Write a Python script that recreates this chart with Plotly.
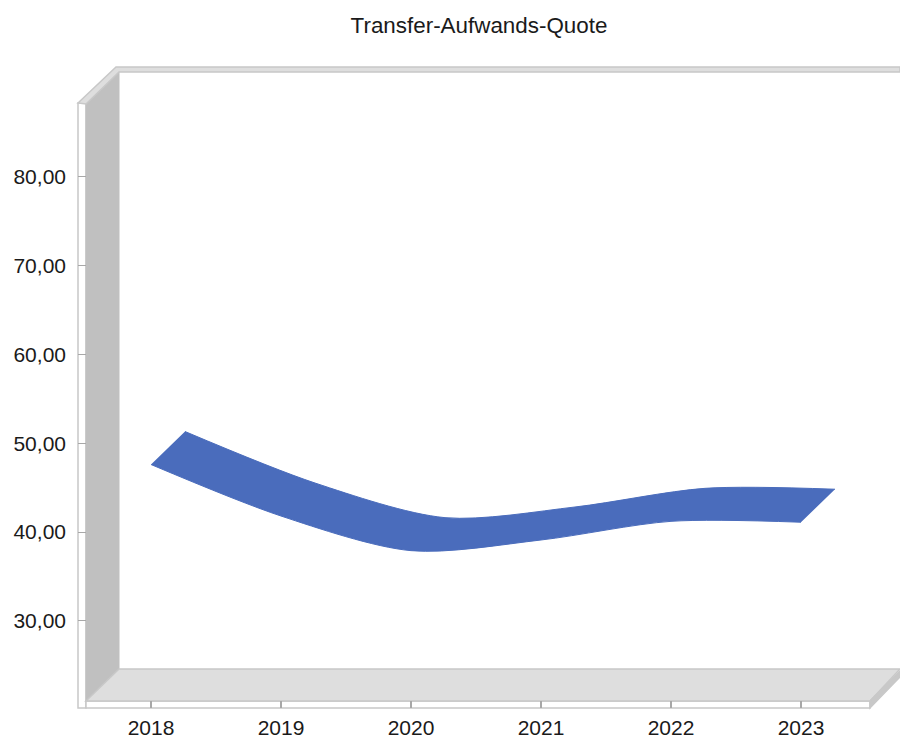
import plotly.graph_objects as go

years = [2018, 2019, 2020, 2021, 2022, 2023]
quote = [47.6, 41.8, 37.9, 39.1, 41.2, 41.1]
y_ticks = [30, 40, 50, 60, 70, 80]
y_labels = ["30,00", "40,00", "50,00", "60,00", "70,00", "80,00"]
title_text = "Transfer-Aufwands-Quote"

W, H = 900, 740
L, R, T, B = 78, 900, 60, 708
PX_YEAR = 130.0
PX_UNIT = 8.88


def xv(px):
    return 2018 + (px - 151) / PX_YEAR


def yv(py):
    return 40 + (532 - py) / PX_UNIT


depth_x = 34 / PX_YEAR
depth_y = 33 / PX_UNIT

EDGE = "#C8C8C8"
WALL = "#C0C0C0"
FLOOR = "#DEDEDE"
BLUE = "#4A6CBC"
SMOOTH = 0.85


def poly(points, fill, line=EDGE, width=1.5):
    path = "M " + " L ".join(f"{(x - L) / (R - L):.5f},{(B - y) / (B - T):.5f}" for x, y in points) + " Z"
    return dict(type="path", xref="paper", yref="paper", path=path, fillcolor=fill,
                line=dict(color=line, width=width), layer="below")


shapes = [
    poly([(78, 103), (86, 103), (86, 708), (78, 708)], "#FFFFFF"),
    poly([(86, 701), (870, 701), (870, 708), (86, 708)], "#FFFFFF"),
    poly([(86, 104), (119, 72), (119, 669), (86, 701)], WALL, WALL, 1),
    poly([(78, 103), (116, 67), (900, 67), (900, 72), (119, 72), (86, 104)], FLOOR),
    poly([(86, 701), (119, 669), (900, 669), (870, 701)], FLOOR),
    poly([(870, 701), (900, 671), (900, 677), (870, 708)], EDGE),
]

fig = go.Figure()
fig.add_trace(go.Scatter(
    x=[v + depth_x for v in years], y=[v + depth_y for v in quote],
    mode="lines", line=dict(shape="spline", smoothing=SMOOTH, color=BLUE, width=1),
    hoverinfo="skip", showlegend=False))
fig.add_trace(go.Scatter(
    x=years, y=quote, mode="lines", fill="tonexty", fillcolor=BLUE,
    line=dict(shape="spline", smoothing=SMOOTH, color=BLUE, width=1),
    name="Transfer-Aufwands-Quote", showlegend=False))

font = dict(family="Liberation Sans, Arial, sans-serif", size=21, color="#1A1A1A")
fig.update_layout(
    width=W, height=H, autosize=False,
    margin=dict(l=L, r=W - R, t=T, b=H - B, pad=0),
    paper_bgcolor="#FFFFFF", plot_bgcolor="#FFFFFF",
    showlegend=False, shapes=shapes, font=font,
    title=dict(text=title_text, x=479 / W, xanchor="center", xref="container",
               y=1 - 25 / H, yanchor="middle", yref="container",
               font=dict(family=font["family"], size=22.4, color="#1A1A1A")),
    xaxis=dict(range=[xv(L), xv(R)], tickmode="array", tickvals=years,
               ticktext=[str(y) for y in years], ticks="inside", ticklen=7, tickwidth=1.5,
               tickcolor="#A8A8A8", showgrid=False, zeroline=False, showline=False,
               tickfont=font, ticklabelstandoff=5, fixedrange=True),
    yaxis=dict(range=[yv(B), yv(T)], tickmode="array", tickvals=y_ticks, ticktext=y_labels,
               ticks="inside", ticklen=8, tickwidth=1, tickcolor="#A8A8A8", showgrid=False,
               zeroline=False, showline=False, tickfont=font, ticklabelstandoff=11, fixedrange=True),
)
fig.write_html("out.html", config=dict(displayModeBar=False),
               post_script="document.body.style.margin='0';document.documentElement.style.overflow='hidden';")
